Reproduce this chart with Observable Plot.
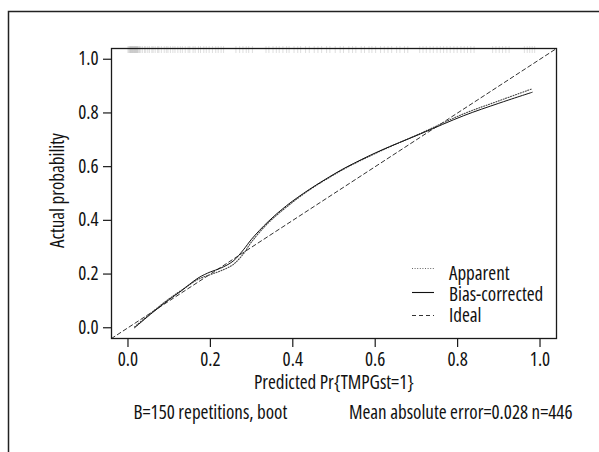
<!DOCTYPE html>
<html>
<head>
<meta charset="utf-8">
<script src="https://cdn.jsdelivr.net/npm/d3@7"></script>
<script src="https://cdn.jsdelivr.net/npm/@observablehq/plot@0.6"></script>
<style>
  html, body { margin: 0; padding: 0; background: white; }
  #chart { width: 599px; height: 452px; }
  #chart svg text { font-stretch: 85%; }
</style>
</head>
<body>
<div id="chart"></div>
<script>
// ---- data ----
const xDomain = [-0.04, 1.04];
const yDomain = [-0.04, 1.04];
const xTicks = [0, 0.2, 0.4, 0.6, 0.8, 1.0];
const yTicks = [0, 0.2, 0.4, 0.6, 0.8, 1.0];

const predX = [0.016, 0.06, 0.10, 0.13, 0.17, 0.20, 0.225, 0.255, 0.28, 0.30, 0.34, 0.385, 0.44, 0.49, 0.53, 0.61, 0.71, 0.815, 0.90, 0.981];
const biasCorrected = [0.0, 0.057, 0.105, 0.138, 0.185, 0.208, 0.222, 0.248, 0.29, 0.33, 0.395, 0.455, 0.515, 0.563, 0.598, 0.658, 0.722, 0.790, 0.836, 0.877];
const apparent = [0.003, 0.06, 0.108, 0.14, 0.18, 0.198, 0.212, 0.235, 0.275, 0.32, 0.39, 0.45, 0.513, 0.561, 0.596, 0.656, 0.724, 0.797, 0.845, 0.89];

const rug = [0.000,0.002,0.004,0.005,0.006,0.007,0.008,0.009,0.010,0.011,0.012,0.013,0.014,0.015,0.016,0.017,0.018,0.019,0.020,0.021,0.022,0.023,0.024,0.026,0.028,
  0.031,0.035,0.040,0.043,0.048,0.052,0.058,0.061,0.066,0.072,0.075,0.081,0.088,0.093,0.097,0.103,0.109,0.114,0.121,0.127,0.132,0.139,0.146,0.150,0.158,
  0.163,0.171,0.176,0.184,0.190,0.197,0.205,0.213,0.219,0.226,0.232,0.262,0.271,0.279,0.287,0.293,0.302,0.335,0.342,0.352,0.360,0.367,0.376,
  0.385,0.391,0.403,0.412,0.419,0.431,0.440,0.452,0.461,0.470,0.482,0.490,0.503,0.515,0.523,0.536,0.545,0.553,0.566,0.574,0.585,0.592,0.601,0.613,0.622,
  0.631,0.640,0.652,0.660,0.671,0.679,0.708,0.716,0.724,0.733,0.741,0.750,0.758,0.766,0.774,0.782,0.791,0.799,0.808,0.816,0.824,0.832,0.840,
  0.885,0.893,0.901,0.909,0.917,0.925,0.962,0.969,0.975,0.981,0.987];

const xLabel = "Predicted Pr{TMPGst=1}";
const yLabel = "Actual probability";
const footLeft = "B=150 repetitions, boot";
const footRight = "Mean absolute error=0.028 n=446";
const legendLabels = ["Apparent", "Bias-corrected", "Ideal"];

// ---- tables built from the arrays ----
const biasData = predX.map((x, i) => ({x, y: biasCorrected[i]}));
const apparentData = predX.map((x, i) => ({x, y: apparent[i]}));
const idealData = xDomain.map(v => ({x: v, y: v}));

const font = "'Open Sans', Lato, sans-serif";
const ink = "#111";

const chart = Plot.plot({
  width: 599,
  height: 452,
  marginLeft: 111,
  marginRight: 43,
  marginTop: 48,
  marginBottom: 114,
  style: {fontFamily: font, fontSize: "19px", color: ink, background: "white", overflow: "visible"},
  x: {domain: xDomain},
  y: {domain: yDomain},
  marks: [
    Plot.ruleX(rug, {x: d => d, insetTop: -2, insetBottom: 285, stroke: "#bdbdbd", strokeWidth: 0.5}),
    Plot.line(idealData, {x: "x", y: "y", stroke: "#333", strokeWidth: 1, strokeDasharray: "4,3"}),
    Plot.line(apparentData, {x: "x", y: "y", curve: "catmull-rom", stroke: "#444", strokeWidth: 1.1, strokeDasharray: "1,1.6"}),
    Plot.line(biasData, {x: "x", y: "y", curve: "catmull-rom", stroke: "#111", strokeWidth: 1}),
    Plot.frame({stroke: "#1a1a1a", strokeWidth: 1.3}),
    Plot.axisX({ticks: xTicks, tickFormat: d3.format(".1f"), tickSize: 9, tickPadding: 5, label: null, stroke: "#1a1a1a", strokeWidth: 1.2}),
    Plot.axisY({ticks: yTicks, tickFormat: d3.format(".1f"), tickSize: 8, tickPadding: 5, label: null, stroke: "#1a1a1a", strokeWidth: 1.2}),
    Plot.text([xLabel], {text: d => d, frameAnchor: "bottom", dy: 50, fill: ink}),
    Plot.text([yLabel], {text: d => d, frameAnchor: "left", textAnchor: "middle", dx: -54, dy: -3, rotate: -90, fill: ink}),
    Plot.text([footLeft], {text: d => d, frameAnchor: "bottom-left", dx: 22, dy: 80, textAnchor: "start", fill: ink}),
    Plot.text([footRight], {text: d => d, frameAnchor: "bottom-right", dx: 16, dy: 80, textAnchor: "end", fill: ink})
  ]
});

document.getElementById("chart").appendChild(chart);

// outer figure border (left and top edges only, as in the reference crop)
const svg = d3.select(chart);
svg.append("path")
  .attr("d", "M8.5,452V11.5H599")
  .attr("fill", "none")
  .attr("stroke", "#222")
  .attr("stroke-width", 1.5);

// legend inside the plot, lower right
const legendStyles = [
  {dash: "1,1.6", stroke: "#666", width: 1.1, ly: 268.5, ty: 279.5},
  {dash: null, stroke: "#111", width: 1.1, ly: 292.5, ty: 300.5},
  {dash: "4,3", stroke: "#333", width: 1, ly: 315.5, ty: 321.5}
];
const lg = svg.append("g")
  .attr("font-family", font)
  .attr("font-size", 19)
  .attr("text-anchor", "start")
  .attr("fill", ink);
legendLabels.forEach((label, i) => {
  const s = legendStyles[i];
  lg.append("line")
    .attr("x1", 412).attr("x2", 434)
    .attr("y1", s.ly).attr("y2", s.ly)
    .attr("stroke", s.stroke)
    .attr("stroke-width", s.width)
    .attr("stroke-dasharray", s.dash);
  lg.append("text").attr("x", 449).attr("y", s.ty).attr("text-anchor", "start").text(label);
});
</script>
</body>
</html>
